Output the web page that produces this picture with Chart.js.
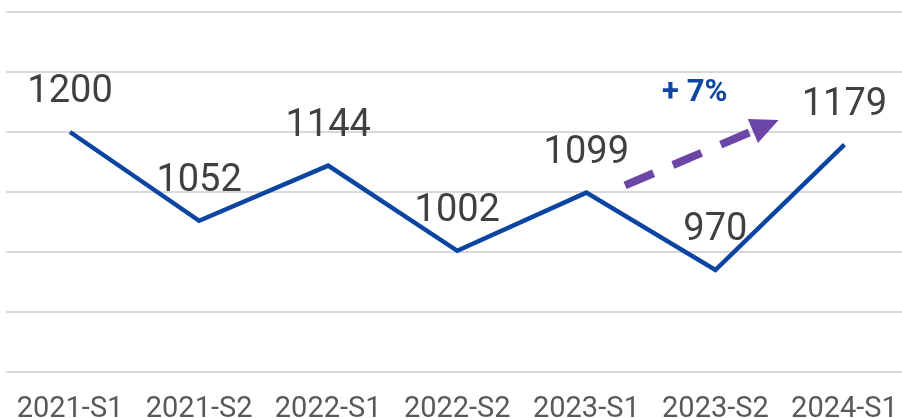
<!DOCTYPE html>
<html>
<head>
<meta charset="utf-8">
<script src="https://cdn.jsdelivr.net/npm/chart.js@4"></script>
<style>
  html, body { margin: 0; padding: 0; background: #fff; overflow: hidden; }
  #wrap { width: 909px; height: 418px; }
</style>
</head>
<body>
<div id="wrap"><canvas id="chart"></canvas></div>
<script>
const periods = ["2021-S1", "2021-S2", "2022-S1", "2022-S2", "2023-S1", "2023-S2", "2024-S1"];
const values = [1200, 1052, 1144, 1002, 1099, 970, 1179];
const yTicks = [800, 900, 1000, 1100, 1200, 1300, 1400];

// trend arrow, in data units (category index, value)
const trendFrom = [4.3, 1111];
const trendTo = [5.49, 1220];
const trendText = "+ 7%";
const trendTextAt = [4.84, 1264];

const valueLabels = {
    id: "valueLabels",
    afterDatasetsDraw(chart) {
        const ctx = chart.ctx;
        const meta = chart.getDatasetMeta(0);
        ctx.save();
        ctx.font = "38px Roboto";
        ctx.fillStyle = "#404040";
        ctx.textAlign = "center";
        ctx.textBaseline = "alphabetic";
        meta.data.forEach((pt, i) => {
            ctx.fillText(String(values[i]), pt.x, pt.y - 30);
        });
        ctx.restore();
    }
};

const trendArrow = {
    id: "trendArrow",
    afterDatasetsDraw(chart) {
        const { ctx, scales: { x, y } } = chart;
        const x1 = x.getPixelForValue(trendFrom[0]), y1 = y.getPixelForValue(trendFrom[1]);
        const x2 = x.getPixelForValue(trendTo[0]), y2 = y.getPixelForValue(trendTo[1]);
        const ang = Math.atan2(y2 - y1, x2 - x1);
        const head = 28;
        const bx = x2 - head * Math.cos(ang), by = y2 - head * Math.sin(ang);
        ctx.save();
        ctx.strokeStyle = "#6B46A6";
        ctx.fillStyle = "#6B46A6";
        ctx.lineWidth = 8;
        ctx.setLineDash([31, 21]);
        ctx.beginPath();
        ctx.moveTo(x1, y1);
        ctx.lineTo(bx + 2 * Math.cos(ang), by + 2 * Math.sin(ang));
        ctx.stroke();
        ctx.setLineDash([]);
        ctx.beginPath();
        ctx.moveTo(x2, y2);
        ctx.lineTo(bx + 13 * Math.sin(ang), by - 13 * Math.cos(ang));
        ctx.lineTo(bx - 13 * Math.sin(ang), by + 13 * Math.cos(ang));
        ctx.closePath();
        ctx.fill();

        ctx.font = "bold 31px Roboto";
        ctx.fillStyle = "#0D47A1";
        ctx.textAlign = "center";
        ctx.textBaseline = "middle";
        ctx.fillText(trendText, x.getPixelForValue(trendTextAt[0]), y.getPixelForValue(trendTextAt[1]));
        ctx.restore();
    }
};

new Chart(document.getElementById("chart"), {
    type: "line",
    data: {
        labels: periods,
        datasets: [{
            data: values,
            borderColor: "#0B45A1",
            borderWidth: 4.5,
            pointRadius: 0,
            tension: 0,
            fill: false
        }]
    },
    options: {
        responsive: true,
        maintainAspectRatio: false,
        animation: false,
        layout: { padding: { left: 5.5, right: 0, top: 12, bottom: 0 } },
        plugins: {
            legend: { display: false },
            tooltip: { enabled: false }
        },
        scales: {
            x: {
                offset: true,
                grid: { display: false, drawTicks: false },
                border: { display: false },
                afterFit(axis) { axis.height = 46; },
                ticks: {
                    padding: 7,
                    color: "#595959",
                    font: { family: "Roboto", size: 29, lineHeight: 2.1 },
                    maxRotation: 0,
                    autoSkip: false
                }
            },
            y: {
                min: yTicks[0],
                max: yTicks[yTicks.length - 1],
                afterBuildTicks(axis) {
                    axis.ticks = yTicks.map(v => ({ value: v }));
                },
                grid: { color: "#d9d9d9", lineWidth: 2, drawTicks: false },
                border: { display: false },
                ticks: { display: false }
            }
        }
    },
    plugins: [valueLabels, trendArrow]
});
</script>
</body>
</html>
